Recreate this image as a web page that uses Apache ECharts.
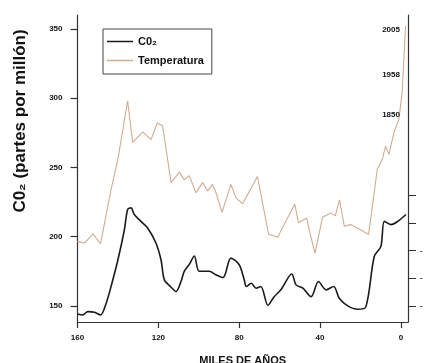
<!DOCTYPE html>
<html>
<head>
<meta charset="utf-8">
<script src="https://cdn.jsdelivr.net/npm/echarts@6/dist/echarts.min.js"></script>
<style>
html,body{margin:0;padding:0;background:#fff;}
#c{width:424px;height:363px;}
</style>
</head>
<body>
<div id="c"></div>
<script>
// ---- data (miles de años, ppm) ----
var tempAge = [160, 156.5, 152.4, 148.6, 143.4, 140, 135.2, 132.7, 127.7, 123.6, 120.6, 117.9, 113.7, 109.6, 107.2, 104.7, 101.4, 98.1, 95.6, 93.2, 91.5, 88.5, 84.1, 81.6, 78.3, 71, 65.5, 61, 57, 52.5, 50.7, 46.6, 45.4, 42.5, 38.8, 34.7, 32.5, 30.4, 28, 24.9, 19.9, 16, 11.7, 9.2, 7.6, 5.9, 3.5, 1, -0.6, -2.3];
var tempVal = [196.6, 195.4, 202, 195, 234, 256, 298, 268, 275.6, 270, 282, 280, 239, 246.6, 241, 244, 231.7, 239, 233, 237.7, 231.7, 217.5, 237.7, 228, 223.7, 243.5, 202, 199.5, 211, 223.5, 210, 213.5, 205, 188, 214, 217, 215, 226.5, 207.5, 208.7, 205, 201.5, 248.6, 255.8, 265.4, 259.4, 275, 285, 304, 352];

var co2Age = [160, 157.4, 154.9, 151.6, 148.6, 145.8, 143.4, 140, 136.8, 135.2, 133.5, 131.9, 128.6, 125.3, 121.2, 118.7, 117, 113.7, 111.3, 108.8, 107.2, 104.7, 102.2, 99.8, 94.8, 91.5, 88, 84.1, 80, 77.5, 76.5, 74, 71.7, 69.3, 65.8, 62.7, 59.4, 54, 51.9, 48.5, 44.4, 40.8, 37, 33.3, 30.5, 26.3, 21.4, 17.3, 13.2, 9.9, 8.2, 4.9, 1.6, -2.5];
var co2Val = [144.2, 143.5, 145.9, 145.4, 143.5, 152, 164, 183.3, 205, 219.6, 220.8, 216, 211, 206.3, 195.4, 183.3, 168.8, 163.5, 160.4, 167.6, 174.9, 180, 186, 175, 175, 172.5, 170.5, 184.5, 179.7, 168.8, 164, 166.4, 162.8, 164, 150.5, 156.7, 161.6, 173, 165.2, 162.8, 156.7, 167.6, 161.6, 164, 155.6, 150, 147.6, 149.5, 185.7, 193, 211, 208.7, 211, 216];

var xTicks = [160, 120, 80, 40, 0];
var yTicks = [150, 200, 250, 300, 350];
var rightTicks = [150, 170, 190, 210, 230];
var rightTickLabels = ['- .', '- .', '- .', '', ''];

var yearLabels = ['2005', '1958', '1850'];
var yearAge = [0, 0, 0];
var yearPpm = [349.5, 316.7, 287.7];

function pairs(a, b) { return a.map(function (v, i) { return [v, b[i]]; }); }

var axisCol = '#333';
var font = 'Liberation Sans, Arial';
var chart = echarts.init(document.getElementById('c'), null, {renderer: 'canvas'});
chart.setOption({
  backgroundColor: '#fff',
  animation: false,
  grid: {left: 77.5, right: 16, top: 15, bottom: 41, outerBoundsMode: 'none', containLabel: false},
  legend: {
    left: 103, top: 29, orient: 'vertical',
    data: [{name: 'C0₂', icon: 'rect'}, {name: 'Temperatura', icon: 'rect'}],
    borderColor: '#444', borderWidth: 1,
    padding: [7, 8, 8, 4],
    itemWidth: 26, itemHeight: 1.5, itemGap: 8,
    textStyle: {fontFamily: font, fontWeight: 'bold', fontSize: 11, color: '#111'}
  },
  xAxis: {
    type: 'value', inverse: true, min: -3.5, max: 160,
    name: 'MILES DE AÑOS', nameLocation: 'middle', nameGap: 33,
    nameTextStyle: {fontFamily: font, fontWeight: 'bold', fontSize: 11, color: '#111'},
    axisLine: {show: true, onZero: false, lineStyle: {color: axisCol, width: 1.2}},
    axisTick: {show: true, length: 6, customValues: xTicks, lineStyle: {color: axisCol, width: 1.2}},
    axisLabel: {customValues: xTicks, margin: 12, fontFamily: font, fontWeight: 'bold', fontSize: 8, color: '#111'},
    splitLine: {show: false}
  },
  yAxis: [{
    type: 'value', min: 138.4, max: 360,
    axisLine: {show: true, onZero: false, lineStyle: {color: axisCol, width: 1.2}},
    axisTick: {show: true, length: 7, customValues: yTicks, lineStyle: {color: axisCol, width: 1.2}},
    axisLabel: {customValues: yTicks, margin: 15, fontFamily: font, fontWeight: 'bold', fontSize: 8, color: '#111'},
    splitLine: {show: false}
  }, {
    type: 'value', position: 'right', min: 138.4, max: 360,
    axisLine: {show: true, onZero: false, lineStyle: {color: axisCol, width: 1.2}},
    axisTick: {show: true, length: 8, customValues: rightTicks, lineStyle: {color: axisCol, width: 1}},
    axisLabel: {customValues: rightTicks, margin: 12, fontSize: 8, fontWeight: 'bold', color: '#222',
      formatter: function (v) { var i = rightTicks.indexOf(v); return i >= 0 ? rightTickLabels[i] : ''; }},
    splitLine: {show: false}
  }],
  graphic: [{
    type: 'text', x: 20, y: 121, rotation: Math.PI / 2,
    style: {text: 'C0₂ (partes por millón)', fontFamily: font, fontWeight: 'bold', fontSize: 17,
      fill: '#111', textAlign: 'center', textVerticalAlign: 'middle'}
  }],
  series: [{
    name: 'C0₂', type: 'line', data: pairs(co2Age, co2Val),
    showSymbol: false, symbol: 'none', smooth: 0.3,
    lineStyle: {color: '#1a1a1a', width: 1.6}, itemStyle: {color: '#1a1a1a'}
  }, {
    name: 'Temperatura', type: 'line', data: pairs(tempAge, tempVal),
    showSymbol: false, symbol: 'none',
    lineStyle: {color: '#d2ab90', width: 1.1}, itemStyle: {color: '#d2ab90'},
    markPoint: {
      symbol: 'circle', symbolSize: 0, silent: true,
      label: {show: true, position: 'left', distance: 1, formatter: '{b}',
        fontFamily: font, fontWeight: 'bold', fontSize: 8, color: '#111'},
      data: yearLabels.map(function (t, i) { return {name: t, coord: [yearAge[i], yearPpm[i]]}; })
    }
  }]
});
</script>
</body>
</html>
